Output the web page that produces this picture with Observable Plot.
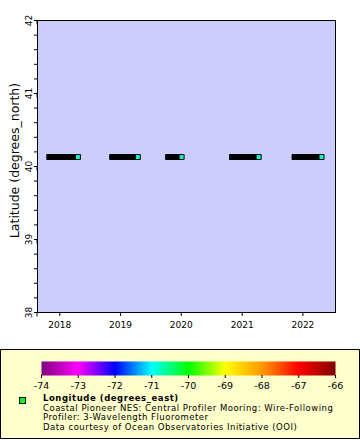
<!DOCTYPE html>
<html><head><meta charset="utf-8">
<script src="https://cdn.jsdelivr.net/npm/d3@7"></script>
<script src="https://cdn.jsdelivr.net/npm/@observablehq/plot@0.6"></script>
<style>
body{margin:0;background:#fff;font-family:"DejaVu Sans",sans-serif;}
#wrap{position:relative;width:360px;height:440px;overflow:hidden;}
#chart{position:absolute;left:0;top:0;}
#legend{position:absolute;left:0;top:349px;width:358px;height:88px;border:1px solid #000;background:#ffffcc;}
#cbar{position:absolute;left:0;top:355px;}
.lt{position:absolute;left:43px;font-size:8.5px;line-height:9.5px;letter-spacing:0.5px;white-space:nowrap;color:#000;}
#mk{position:absolute;left:19px;top:397px;width:5px;height:5px;background:#00ff00;border:1px solid #000;}
</style></head><body>
<div id="wrap">
<div id="chart"></div>
<div id="legend"></div>
<div id="cbar"></div>
<div id="mk"></div>
<div class="lt" id="l0" style="top:394px;font-weight:bold;letter-spacing:0.55px;"></div>
<div class="lt" id="l1" style="top:403.5px;"></div>
<div class="lt" id="l2" style="top:413px;"></div>
<div class="lt" id="l3" style="top:422.5px;"></div>
</div>
<script>
// Deployments (start and end of each record) at the mooring position
const deployStart = ["2017-10-30", "2018-11-12", "2019-10-14", "2020-11-01", "2021-11-12"];
const deployEnd   = ["2018-04-20", "2019-04-15", "2020-01-03", "2021-04-10", "2022-04-23"];
const latitude    = [40.13, 40.13, 40.13, 40.13, 40.13];
const longitude   = [-70.78, -70.78, -70.78, -70.78, -70.78];
const yearTicks   = ["2018", "2019", "2020", "2021", "2022"];
const latTicks    = [38, 39, 40, 41, 42];
const lonTicks    = [-74, -73, -72, -71, -70, -69, -68, -67, -66];
const rainbow     = ["#800080", "#ff00ff", "#0000ff", "#00ffff", "#00ff00", "#ffff00", "#ff9900", "#ff0000", "#800000"];
const yLabel = "Latitude (degrees_north)";
const legendLines = [
  "Longitude (degrees_east)",
  "Coastal Pioneer NES: Central Profiler Mooring: Wire-Following",
  "Profiler: 3-Wavelength Fluorometer",
  "Data courtesy of Ocean Observatories Initiative (OOI)"
];

const data = deployStart.map((s, i) => ({
  start: new Date(s + "T00:00:00Z"), end: new Date(deployEnd[i] + "T00:00:00Z"),
  lat: latitude[i], lon: longitude[i]
}));
const colorScale = {type: "linear", domain: lonTicks, range: rainbow, interpolate: "rgb"};
const font = "DejaVu Sans";

const chart = Plot.plot({
  width: 360, height: 345,
  marginLeft: 37, marginRight: 25, marginTop: 20, marginBottom: 33,
  style: {fontFamily: font, fontSize: "9px", background: "transparent", color: "#000"},
  x: {type: "utc", domain: [new Date("2017-08-20T00:00:00Z"), new Date("2022-07-16T00:00:00Z")]},
  y: {domain: [38, 42]},
  color: colorScale,
  marks: [
    Plot.frame({fill: "#ccccff"}),
    Plot.axisY({ticks: d3.ticks(38, 42, 20), tickSize: 3, text: null, label: null}),
    Plot.axisY({ticks: latTicks, tickSize: 4, tickPadding: 4, tickFormat: d3.format("d"), rotate: -90, textAnchor: "middle", lineAnchor: "middle", label: null}),
    Plot.axisX({ticks: yearTicks.map(y => new Date(y + "-01-01T00:00:00Z")), tickFormat: d3.utcFormat("%Y"), tickSize: 4, tickPadding: 5, label: null}),
    Plot.text([yLabel], {frameAnchor: "left", dx: -23, dy: -6, rotate: -90, fontSize: 12.5, text: d => d, textAnchor: "middle", lineAnchor: "middle"}),
    Plot.ruleY(data, {y: "lat", x1: "start", x2: "end", stroke: "black", strokeWidth: 6}),
    Plot.dot(data, {x: "start", y: "lat", symbol: "square", r: 2.82, fill: "black", stroke: "black", strokeWidth: 1}),
    Plot.dot(data, {x: "end", y: "lat", symbol: "square", r: 2.82, fill: "lon", stroke: "black", strokeWidth: 1}),
    Plot.frame({stroke: "black", strokeWidth: 1})
  ]
});
document.getElementById("chart").append(chart);

const cbar = Plot.plot({
  width: 360, height: 40,
  marginLeft: 41, marginRight: 25, marginTop: 6, marginBottom: 20,
  style: {fontFamily: font, fontSize: "9.5px", background: "transparent", color: "#000"},
  x: {domain: [lonTicks[0], lonTicks[lonTicks.length - 1]]},
  y: {domain: [0, 1], axis: null},
  color: colorScale,
  marks: [
    Plot.raster({x1: lonTicks[0], x2: lonTicks[lonTicks.length - 1], y1: 0, y2: 1, width: 400, height: 1, fill: (x, y) => x}),
    Plot.axisX({ticks: lonTicks, tickSize: 3, tickPadding: 4, tickFormat: d => d3.format("d")(d).replace("−", "-"), label: null})
  ]
});
document.getElementById("cbar").append(cbar);

legendLines.forEach((t, i) => { document.getElementById("l" + i).textContent = t; });
</script>
</body></html>
